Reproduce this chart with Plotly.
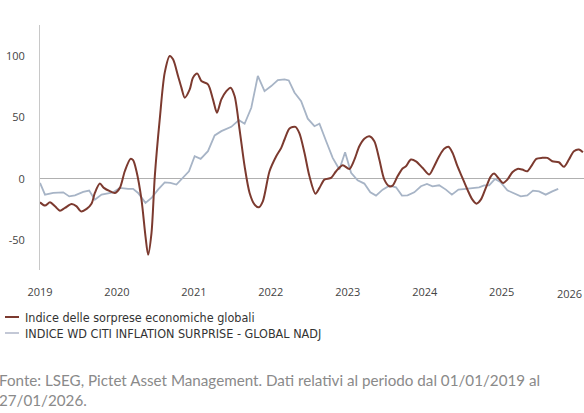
import plotly.graph_objects as go

# Indice delle sorprese economiche globali (decimal year, value)
eco_t = [2019.000, 2019.065, 2019.130, 2019.195, 2019.259, 2019.324, 2019.411, 2019.476,
         2019.532, 2019.606, 2019.671, 2019.713, 2019.778, 2019.830, 2019.908, 2019.973,
         2020.038, 2020.102, 2020.176, 2020.210, 2020.254, 2020.319, 2020.371, 2020.405,
         2020.449, 2020.492, 2020.556, 2020.621, 2020.686, 2020.729, 2020.794, 2020.838,
         2020.881, 2020.946, 2020.988, 2021.045, 2021.097, 2021.183, 2021.248, 2021.300,
         2021.357, 2021.422, 2021.477, 2021.529, 2021.594, 2021.659, 2021.724, 2021.789,
         2021.844, 2021.896, 2021.983, 2022.070, 2022.135, 2022.178, 2022.243, 2022.320,
         2022.372, 2022.437, 2022.502, 2022.580, 2022.632, 2022.696, 2022.783, 2022.848,
         2022.934, 2023.021, 2023.086, 2023.150, 2023.215, 2023.280, 2023.345, 2023.410,
         2023.475, 2023.540, 2023.582, 2023.647, 2023.712, 2023.756, 2023.821, 2023.886,
         2023.971, 2024.058, 2024.123, 2024.188, 2024.253, 2024.309, 2024.361, 2024.425,
         2024.490, 2024.555, 2024.620, 2024.672, 2024.729, 2024.794, 2024.859, 2024.901,
         2024.966, 2025.018, 2025.074, 2025.139, 2025.204, 2025.268, 2025.333, 2025.398,
         2025.450, 2025.528, 2025.593, 2025.658, 2025.744, 2025.809, 2025.874, 2025.939,
         2026.004, 2026.056]
eco_v = [-19.0, -21.7, -19.0, -22.3, -25.8, -23.6, -20.4, -22.3,
         -26.4, -24.4, -20.0, -11.4, -3.8, -7.3, -10.0, -11.4,
         -7.3, 6.2, 16.3, 15.2, 6.2, -16.9, -46.7, -61.6,
         -44.0, 2.1, 48.3, 86.3, 99.8, 97.1, 83.6, 74.1,
         66.0, 72.7, 82.2, 85.5, 79.5, 76.8, 64.6, 53.7,
         64.6, 71.3, 74.1, 67.3, 40.1, 10.3, -11.4, -20.9,
         -23.1, -18.2, 6.2, 18.4, 25.2, 32.0, 41.0, 42.3,
         37.0, 21.2, 2.1, -12.0, -7.3, -0.6, 0.8, 6.2,
         11.1, 8.1, 15.7, 26.5, 32.6, 34.7, 30.6, 15.7,
         -0.6, -6.0, -5.5, 2.1, 8.4, 10.3, 15.7, 14.3,
         9.0, 3.5, 10.3, 18.4, 24.4, 26.1, 21.2, 10.3,
         0.8, -8.7, -16.9, -20.1, -16.9, -7.3, 2.1, 4.3,
         0.0, -3.3, -0.6, 5.4, 8.1, 7.6, 6.2, 11.6,
         16.3, 17.1, 17.1, 14.3, 13.5, 9.8, 15.7, 22.5,
         23.9, 21.7]

# INDICE WD CITI INFLATION SURPRISE - GLOBAL NADJ
inf_t = [2019.000, 2019.065, 2019.173, 2019.302, 2019.380, 2019.454, 2019.562, 2019.639,
         2019.713, 2019.800, 2019.951, 2020.038, 2020.145, 2020.210, 2020.275, 2020.371,
         2020.449, 2020.534, 2020.621, 2020.695, 2020.773, 2020.859, 2020.936, 2021.010,
         2021.088, 2021.183, 2021.270, 2021.357, 2021.486, 2021.585, 2021.659, 2021.746,
         2021.831, 2021.918, 2022.005, 2022.091, 2022.178, 2022.233, 2022.307, 2022.394,
         2022.480, 2022.567, 2022.632, 2022.719, 2022.804, 2022.891, 2022.965, 2023.043,
         2023.128, 2023.215, 2023.293, 2023.367, 2023.453, 2023.540, 2023.627, 2023.704,
         2023.777, 2023.864, 2023.951, 2024.029, 2024.101, 2024.188, 2024.275, 2024.353,
         2024.438, 2024.534, 2024.620, 2024.707, 2024.772, 2024.837, 2024.914, 2024.988,
         2025.074, 2025.161, 2025.248, 2025.333, 2025.407, 2025.485, 2025.572, 2025.658,
         2025.735]
inf_v = [-3.3, -12.8, -11.4, -10.9, -14.2, -13.4, -10.6, -9.5,
         -16.9, -12.8, -10.9, -7.3, -8.1, -8.1, -11.4, -19.5,
         -15.5, -8.7, -2.8, -3.3, -4.6, 0.8, 6.2, 18.4,
         16.3, 22.5, 35.3, 38.8, 42.3, 47.7, 44.8, 57.8,
         83.6, 71.3, 75.4, 80.3, 80.9, 80.0, 70.2, 63.2,
         48.9, 42.8, 44.8, 30.6, 17.1, 7.6, 21.7, 4.9,
         -1.1, -3.8, -10.9, -13.6, -8.7, -5.5, -6.8, -13.6,
         -13.4, -10.9, -6.0, -4.1, -6.0, -5.2, -8.7, -12.8,
         -8.7, -8.1, -7.3, -6.8, -5.2, -5.2, 0.0, -2.8,
         -9.3, -12.0, -14.2, -13.4, -9.5, -10.1, -12.8, -10.1,
         -8.1]

year_ticks = [2019, 2020, 2021, 2022, 2023, 2024, 2025]
year_labels = ["2019", "2020", "2021", "2022", "2023", "2024", "2025"]
last_year_label = "2026"
y_ticks = [-50, 0, 50, 100]
y_labels = ["-50", "0", "50", "100"]

names = ["Indice delle sorprese economiche globali",
         "INDICE WD CITI INFLATION SURPRISE - GLOBAL NADJ"]
source = ("Fonte: LSEG, Pictet Asset Management. Dati relativi al periodo dal 01/01/2019 al<br>"
          "27/01/2026.")

BROWN = "#7c3a2f"
GREY = "#a7b4c6"
LEGEND_FONT = "DejaVu Sans Condensed, Roboto, sans-serif"

fig = go.Figure()
fig.add_trace(go.Scatter(x=inf_t, y=inf_v, mode="lines", name=names[1],
                         line=dict(color=GREY, width=1.8), showlegend=False))
fig.add_trace(go.Scatter(x=eco_t, y=eco_v, mode="lines", name=names[0],
                         line=dict(color=BROWN, width=2, shape="spline", smoothing=0.8),
                         showlegend=False))

fig.update_layout(
    width=584, height=413,
    margin=dict(l=40, r=0, t=25, b=143),
    paper_bgcolor="white", plot_bgcolor="white",
    font=dict(family="Open Sans", size=11, color="#444"),
    xaxis=dict(range=[2019.0, 2026.07], tickvals=year_ticks, ticktext=year_labels,
               showgrid=False, zeroline=False, showline=False, ticks="",
               ticklabelstandoff=14, tickfont=dict(family="Open Sans", size=11, color="#444")),
    yaxis=dict(range=[-74, 125], tickvals=y_ticks, ticktext=y_labels,
               showgrid=False, zeroline=True, zerolinecolor="#b0b0b0", zerolinewidth=1,
               showline=True, linecolor="#c8c8c8", linewidth=1, ticks="",
               ticklabelstandoff=12, tickfont=dict(family="Open Sans", size=11, color="#444")),
)

annotations = [
    dict(text=last_year_label, xref="paper", yref="paper", x=1.0, y=0, yshift=-14,
         xanchor="right", yanchor="top", showarrow=False,
         font=dict(family="Open Sans", size=11, color="#444")),
    dict(text=names[0], xref="paper", yref="paper", x=0, xshift=-17, y=0, yshift=-47,
         xanchor="left", yanchor="middle", showarrow=False,
         font=dict(family=LEGEND_FONT, size=12.5, color="#333")),
    dict(text=names[1], xref="paper", yref="paper", x=0, xshift=-17, y=0, yshift=-63,
         xanchor="left", yanchor="middle", showarrow=False,
         font=dict(family=LEGEND_FONT, size=12.5, color="#333")),
    dict(text=source, xref="paper", yref="paper", x=0, xshift=-43, y=0, yshift=-99,
         xanchor="left", yanchor="top", align="left", showarrow=False,
         font=dict(family="Lato", size=15.2, color="#8a8a8a")),
]
fig.update_layout(annotations=annotations)

fig.update_layout(shapes=[
    dict(type="line", xref="paper", yref="paper", xsizemode="pixel", ysizemode="pixel",
         xanchor=0, yanchor=0, x0=-35, x1=-21, y0=-47, y1=-47,
         line=dict(color=BROWN, width=2)),
    dict(type="line", xref="paper", yref="paper", xsizemode="pixel", ysizemode="pixel",
         xanchor=0, yanchor=0, x0=-35, x1=-21, y0=-63, y1=-63,
         line=dict(color="#c3c8d6", width=2)),
])

fig.write_html("out.html")
